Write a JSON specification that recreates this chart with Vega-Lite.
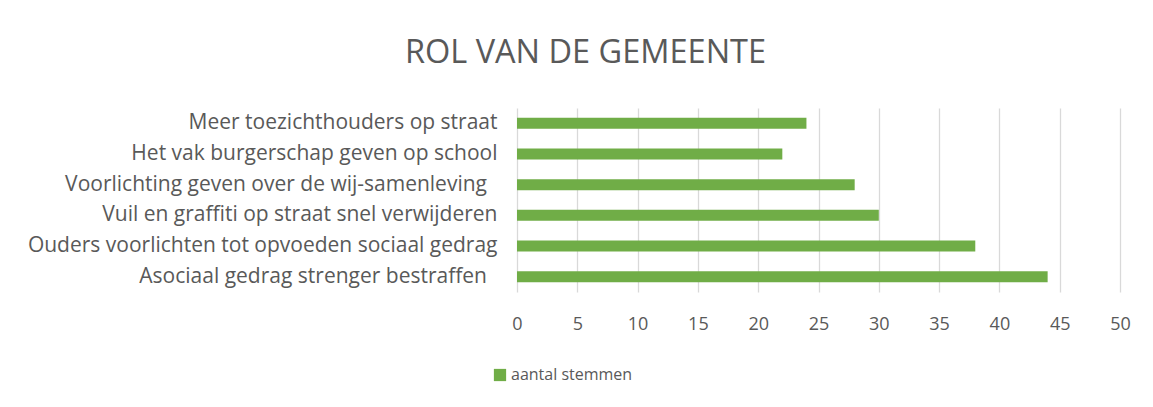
{
  "$schema": "https://vega.github.io/schema/vega-lite/v6.json",
  "width": 603,
  "height": 184,
  "autosize": {"type": "none"},
  "padding": {"left": 517, "top": 108, "right": 33, "bottom": 115},
  "background": "white",
  "title": {
    "text": "ROL VAN DE GEMEENTE",
    "anchor": "middle",
    "frame": "group",
    "dx": -233,
    "offset": 39,
    "font": "Open Sans",
    "fontSize": 32.5,
    "fontWeight": "normal",
    "color": "#595959"
  },
  "data": {
    "values": [
      {"maatregel": "Meer toezichthouders op straat", "stemmen": 24, "reeks": "aantal stemmen"},
      {"maatregel": "Het vak burgerschap geven op school", "stemmen": 22, "reeks": "aantal stemmen"},
      {"maatregel": "Voorlichting geven over de wij-samenleving\u2002\u200b", "stemmen": 28, "reeks": "aantal stemmen"},
      {"maatregel": "Vuil en graffiti op straat snel verwijderen", "stemmen": 30, "reeks": "aantal stemmen"},
      {"maatregel": "Ouders voorlichten tot opvoeden sociaal gedrag", "stemmen": 38, "reeks": "aantal stemmen"},
      {"maatregel": "Asociaal gedrag strenger bestraffen\u2002\u200b", "stemmen": 44, "reeks": "aantal stemmen"}
    ]
  },
  "mark": {"type": "bar"},
  "encoding": {
    "y": {
      "field": "maatregel",
      "type": "nominal",
      "sort": null,
      "scale": {"paddingInner": 0.64, "paddingOuter": 0.32},
      "axis": {
        "title": null,
        "domain": false,
        "ticks": false,
        "labelPadding": 20,
        "labelLimit": 600,
        "labelFont": "Open Sans",
        "labelFontSize": 21,
        "labelColor": "#595959"
      }
    },
    "x": {
      "field": "stemmen",
      "type": "quantitative",
      "scale": {"domain": [0, 50]},
      "axis": {
        "title": null,
        "values": [0, 5, 10, 15, 20, 25, 30, 35, 40, 45, 50],
        "domain": false,
        "ticks": false,
        "grid": true,
        "gridColor": "#D9D9D9",
        "gridWidth": 1.3,
        "labelPadding": 23,
        "labelFont": "Open Sans",
        "labelFontSize": 18,
        "labelColor": "#595959",
        "labelFlush": false
      }
    },
    "color": {
      "field": "reeks",
      "type": "nominal",
      "scale": {"range": ["#70AD47"]},
      "legend": {
        "title": null,
        "orient": "none",
        "legendX": -25,
        "legendY": 259,
        "symbolType": "square",
        "symbolSize": 150,
        "symbolStrokeWidth": 0,
        "labelFont": "Open Sans",
        "labelFontSize": 16,
        "labelColor": "#595959",
        "labelOffset": 3
      }
    }
  },
  "config": {
    "view": {"stroke": null}
  }
}
